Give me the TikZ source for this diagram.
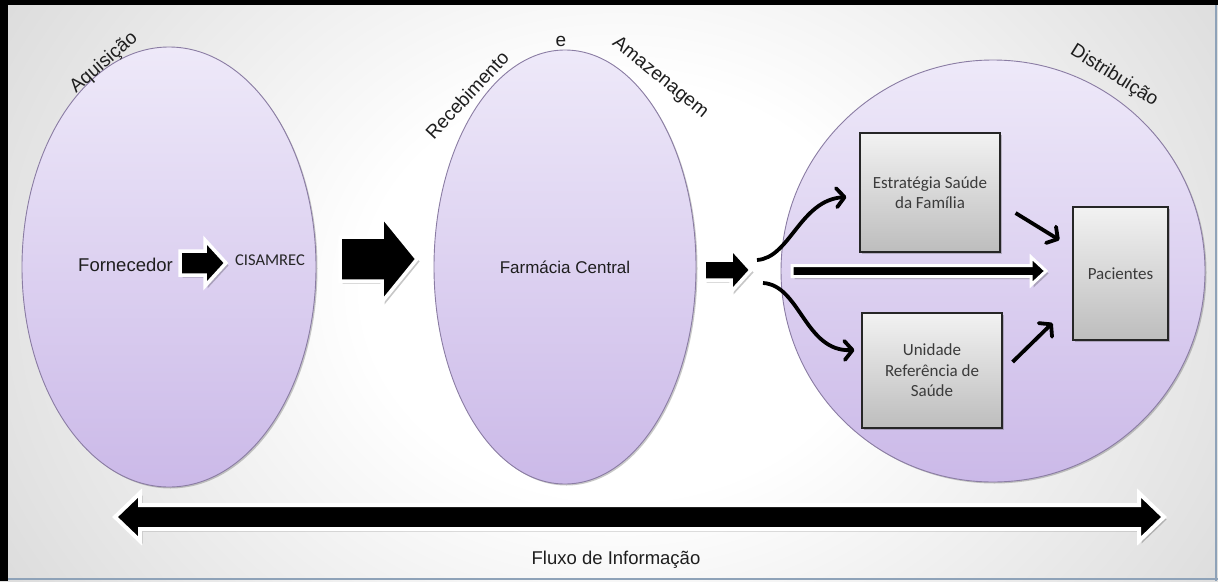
\documentclass[tikz,border=0pt]{standalone}
\usepackage{fontspec}
\setmainfont{Liberation Sans}
\newfontfamily\calib{Carlito}
\usetikzlibrary{shapes.geometric, arrows.meta, calc, shadows}

\definecolor{elltop}{HTML}{EEE9F9}
\definecolor{ellbot}{HTML}{CBB9E8}
\definecolor{ellborder}{HTML}{8A7CA3}
\definecolor{boxtop}{HTML}{F2F2F2}
\definecolor{boxbot}{HTML}{BDBDBD}
\definecolor{boxborder}{HTML}{262626}
\definecolor{boxtext}{HTML}{3B3B3B}
\definecolor{lbltext}{HTML}{1E1E1E}
\definecolor{bgmid}{HTML}{D8D8D8}
\definecolor{bgedge}{HTML}{9C9C9C}
\definecolor{bgcorner}{HTML}{909090}
\definecolor{edgeblue}{HTML}{8EA2B8}

\pgfdeclareradialshading{bgshade}{\pgfpoint{0bp}{0bp}}{color(0bp)=(white); color(10bp)=(white); color(30bp)=(bgmid); color(50bp)=(bgedge); color(75bp)=(bgcorner)}

% block arrow: #1 tail coordinate, #2 shaft length, #3 head length, #4 shaft half width, #5 head half width
\newcommand{\blockarr}[5]{%
  \fill[black, opacity=.22] ([shift={(2.5,2.5)}]#1) ++(0,#4) -- ++(#2,0) -- ++(0,{#5-#4}) -- ++(#3,{-#5}) -- ++({-#3},{-#5}) -- ++(0,{#5-#4}) -- ++({-#2},0) -- cycle;
  \draw[barrow] (#1) ++(0,#4) -- ++(#2,0) -- ++(0,{#5-#4}) -- ++(#3,{-#5}) -- ++({-#3},{-#5}) -- ++(0,{#5-#4}) -- ++({-#2},0) -- cycle;}

\begin{document}
\begin{tikzpicture}[x=1pt,y=-1pt,
  lellipse/.style={ellipse, draw=ellborder, line width=0.9pt, top color=elltop, bottom color=ellbot, inner sep=0pt,
    drop shadow={shadow xshift=1.5pt, shadow yshift=-1.5pt, opacity=.3, fill=black!70}},
  boxnode/.style={rectangle, draw=boxborder, line width=1.1pt, top color=boxtop, bottom color=boxbot, inner sep=0pt,
    align=center, text=boxtext, font=\calib\fontsize{17}{20.5}\selectfont,
    drop shadow={shadow xshift=1.5pt, shadow yshift=-1.5pt, opacity=.3, fill=black!70}},
  barrow/.style={fill=black, draw=white, line width=3.5pt, line join=miter},
  curv/.style={draw=black, line width=3.8pt, -{Straight Barb[length=8pt,width=19pt,round]}},
  plainlbl/.style={inner sep=0pt, text=lbltext, font=\fontsize{18.5}{20}\selectfont},
  arclbl/.style={inner sep=0pt, text=lbltext, font=\fontsize{19}{20}\selectfont},
]
\useasboundingbox (0,0) rectangle (1218,581);

% background
\begin{scope}
  \clip (0,0) rectangle (1218,581);
  \shade[shading=bgshade] (-20,-230) rectangle (1260,810);
\end{scope}
\fill[black] (0,0) rectangle (1218,5);
\fill[black] (0,0) rectangle (8,581);
\draw[edgeblue, line width=2pt] (1216,5) -- (1216,581);
\draw[edgeblue, line width=2pt] (8,579) -- (1218,579);

% ellipses
\node[lellipse, minimum width=294, minimum height=440] (acq) at (169,267) {};
\node[lellipse, minimum width=262, minimum height=434] (rec) at (565,267) {};
\node[lellipse, minimum width=424, minimum height=422] (dis) at (993,271) {};

% stage labels
\node[arclbl, rotate=41] (lacq) at (104,63) {Aquisição};
\node[arclbl, rotate=47] (lrec) at (467,95) {Recebimento};
\node[arclbl] (le) at (561,41) {e};
\node[arclbl, rotate=-39] (lama) at (660,78) {Amazenagem};
\node[arclbl, rotate=-32] (ldis) at (1114,76) {Distribuição};

% texts
\node[plainlbl] (forn) at (125.5,265) {Fornecedor};
\node[inner sep=0pt, text=black!85, font=\calib\fontsize{16.5}{18}\selectfont] (cis) at (270,260) {CISAMREC};
\node[plainlbl, font=\fontsize{17}{20}\selectfont] (farm) at (565,267) {Farmácia Central};

% boxes
\node[boxnode, minimum width=140, minimum height=119] (esf) at (930,192.5) {Estratégia Saúde\\da Família};
\node[boxnode, minimum width=140, minimum height=115] (ure) at (932,370.5) {Unidade\\Referência de\\Saúde};
\node[boxnode, minimum width=95, minimum height=133] (pac) at (1120.5,273.5) {Pacientes};

% block arrows
\coordinate (a1) at (180,263);
\coordinate (a2) at (340,259);
\coordinate (a3) at (704,270);
\coordinate (a4) at (792,271);
\blockarr{a1}{25}{21}{12}{23}
\blockarr{a2}{42}{35}{22}{43}
\blockarr{a3}{27}{20}{10}{22}
\begin{scope}[barrow/.append style={line width=3pt}]
\blockarr{a4}{239}{15}{5.5}{14}
\end{scope}

% curved arrows
\coordinate (c1) at (757,260);
\coordinate (c2) at (763,283);
\draw[curv] (c1) .. controls (790,258) and (800,200) .. ($(esf.west)+(-13,4.5)$);
\draw[curv] (c2) .. controls (800,285) and (805,352) .. ($(ure.west)+(-7,-20.5)$);

% straight arrows to Pacientes
\draw[curv] ($(esf.east)+(15,20.5)$) -- ($(pac.west)+(-13,-33.5)$);
\draw[curv] ($(ure.east)+(10,-8.5)$) -- ($(pac.west)+(-20,49.5)$);

% information flow double arrow
\coordinate (fl) at (115,517);
\coordinate (fr) at (1164,517);
\fill[black, opacity=.22] ([shift={(2.5,2.5)}]fl) -- ++(25,-24) -- ++(0,12) -- ([shift={(-22.5,-9.5)}]fr) -- ++(0,-12) -- ([shift={(2.5,2.5)}]fr) -- ++(-25,24) -- ++(0,-12) -- ([shift={(27.5,14.5)}]fl) -- ++(0,12) -- cycle;
\draw[barrow, line width=4pt] (fl) -- ++(25,-24) -- ++(0,12) -- ([shift={(-25,-12)}]fr) -- ++(0,-12) -- (fr) -- ++(-25,24) -- ++(0,-12) -- ([shift={(25,12)}]fl) -- ++(0,12) -- cycle;
\node[plainlbl] (flux) at (616,560) {Fluxo de Informação};
\end{tikzpicture}
\end{document}
